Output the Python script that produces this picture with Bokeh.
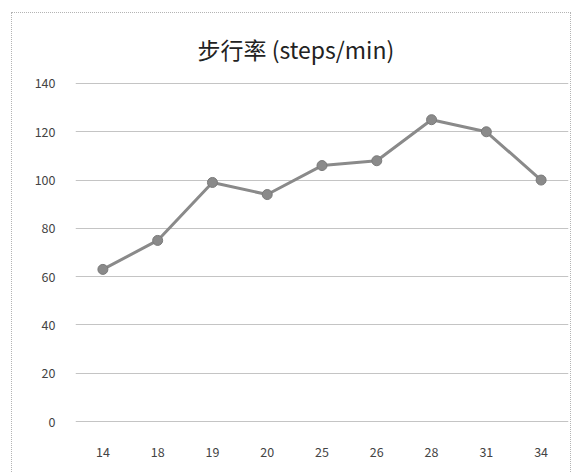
from bokeh.plotting import figure
from bokeh.models import FixedTicker
from bokeh.embed import file_html
from bokeh.resources import INLINE

# Walking cadence by age group
ages = ["14", "18", "19", "20", "25", "26", "28", "31", "34"]
cadence = [63, 75, 99, 94, 106, 108, 125, 120, 100]
y_ticks = [0, 20, 40, 60, 80, 100, 120, 140]

FONT = "Noto Sans CJK SC"
GREY_TEXT = "#444444"

p = figure(
    width=560, height=460,
    margin=(12, 5, 0, 11),
    x_range=ages, y_range=(-0.4, 140.4),
    output_backend="svg", toolbar_location=None,
    min_border_left=63, min_border_right=4,
    min_border_top=69, min_border_bottom=51,
    title="步行率 (steps/min)",
)
# faint dotted frame around the chart box
p.styles = {
    "border-top": "1px dotted #b4b4b4",
    "border-left": "1px dotted #b4b4b4",
    "border-right": "1px dotted #b4b4b4",
}

p.title.align = "left"
p.title.offset = 122
p.title.vertical_align = "top"
p.title.standoff = 30
p.title.text_font = FONT
p.title.text_font_size = "23px"
p.title.text_font_style = "normal"
p.title.text_color = "#222222"

p.outline_line_color = None
p.background_fill_color = "white"
p.border_fill_color = "white"

# Horizontal grid only
p.xgrid.grid_line_color = None
p.ygrid.grid_line_color = "#c4c4c4"
p.ygrid.grid_line_width = 1

p.yaxis.ticker = FixedTicker(ticks=y_ticks)
for ax in (p.xaxis[0], p.yaxis[0]):
    ax.axis_line_color = None
    ax.major_tick_line_color = None
    ax.minor_tick_line_color = None
    ax.major_label_text_font = FONT
    ax.major_label_text_font_size = "12.5px"
    ax.major_label_text_color = GREY_TEXT
p.yaxis.major_label_standoff = 14
p.xaxis.major_label_standoff = 18

p.line(ages, cadence, line_color="#8a8a8a", line_width=3)
p.scatter(ages, cadence, size=10, fill_color="#8a8a8a", line_color="#7a7a7a")

open("out.html", "w").write(file_html(p, INLINE))
